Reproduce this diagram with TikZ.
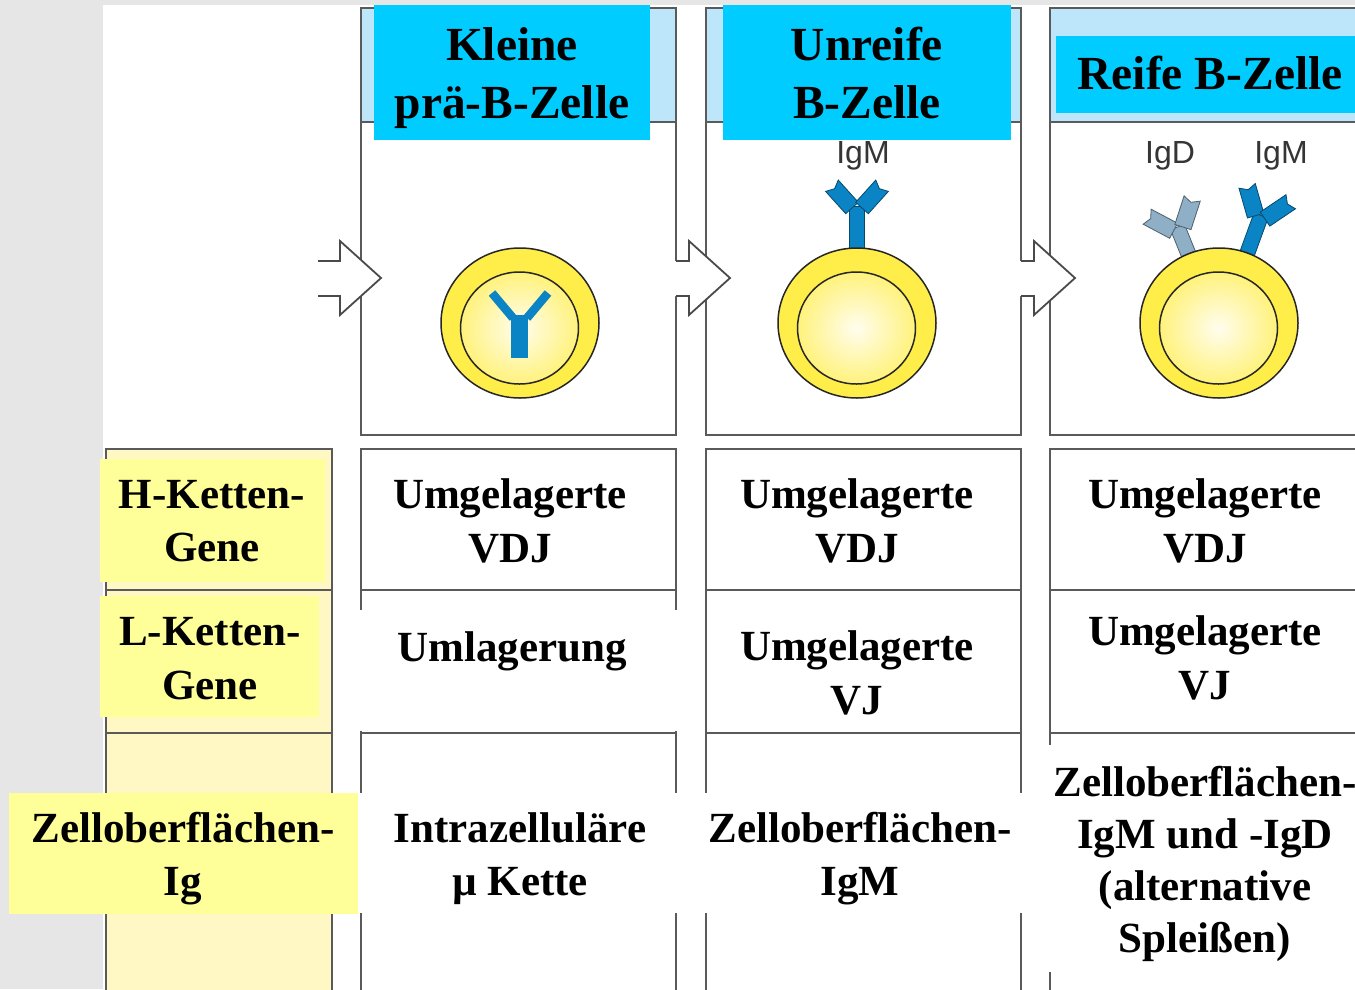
\documentclass[tikz,border=0pt]{standalone}
\usepackage{fontspec}
\setmainfont{Liberation Serif}
\newfontfamily\labelsans{Liberation Sans}

\definecolor{pagegray}{HTML}{E6E6E6}
\definecolor{rule}{HTML}{5A5A5A}
\definecolor{arrowgray}{HTML}{4A4A4A}
\definecolor{hdrblue}{HTML}{BEE6FA}
\definecolor{labelcyan}{HTML}{00CCFF}
\definecolor{labelyellow}{HTML}{FFFF99}
\definecolor{rowyellow}{HTML}{FFF8C4}
\definecolor{cellring}{HTML}{FFEE4A}
\definecolor{cellcore}{HTML}{FFF27C}
\definecolor{cellglow}{HTML}{FFFDEE}
\definecolor{abblue}{HTML}{0A84C4}
\definecolor{abgray}{HTML}{8EAFC6}
\definecolor{labelgray}{HTML}{353535}

\tikzset{
  panel/.style={draw=rule, line width=2.4pt},
  arrowline/.style={draw=arrowgray, line width=1.8pt, line join=miter},
  cellline/.style={draw=black!85, line width=1.5pt},
  hdrtext/.style={inner sep=0pt, align=center,
    font=\fontsize{47.5}{58}\selectfont\bfseries},
  bodytext/.style={inner sep=0pt, align=center,
    font=\fontsize{43}{53.5}\selectfont\bfseries},
  ablabel/.style={inner sep=0pt, text=labelgray,
    font=\labelsans\fontsize{32}{36}\selectfont},
  % Y-shaped antibody standing on its stem base
  % #1 colour, #2 stem length, #3 arm angle, #4 arm length
  pics/antibody/.style n args={4}{code={
    \filldraw[fill=#1, draw=#1!55!black, line width=0.8pt] (-7.5,1) rectangle (7.5,-#2);
    \foreach \ang/\side in {#3/1, -#3/-1} {
      \filldraw[fill=#1, draw=#1!55!black, line width=0.8pt,
                shift={(-5*\side,-#2+2)}, rotate=\ang, xscale=\side]
        (-8.5,0) -- (8.5,0) -- (8.5,-#4) -- (0,-#4+4) -- (-8.5,-#4) -- cycle;
    }
  }}
}

\begin{document}
\begin{tikzpicture}[x=1pt, y=-1pt]
\useasboundingbox (0,0) rectangle (1355,989);
\clip (0,0) rectangle (1355,989);

% page background
\fill[pagegray] (0,0) rectangle (1355,989);
\fill[white] (103,5) rectangle (1355,989);

% stage panels: header band, picture area, three table rows
\foreach \xl/\xr in {361/676, 706/1021, 1050/1365} {
  \fill[hdrblue] (\xl,8) rectangle (\xr,122);
  \draw[panel] (\xl,8) rectangle (\xr,435);
  \draw[panel] (\xl,122) -- (\xr,122);
  \draw[panel] (\xl,449) rectangle (\xr,1010);
  \draw[panel] (\xl,590) -- (\xr,590);
  \draw[panel] (\xl,733) -- (\xr,733);
}

% row-heading column
\fill[rowyellow] (106,449) rectangle (332,1010);
\draw[panel] (106,449) rectangle (332,1010);
\draw[panel] (106,590) -- (332,590);
\draw[panel] (106,733) -- (332,733);

% open block arrows between the stages
\foreach \xt/\xb/\xp in {318/340/381, 676/689/730, 1021/1034/1075} {
  \fill[white] (\xt-2,261) -- (\xb,261) -- (\xb,241) -- (\xp,278)
       -- (\xb,315) -- (\xb,296) -- (\xt-2,296) -- cycle;
  \draw[arrowline] (\xt,261) -- (\xb,261) -- (\xb,241) -- (\xp,278)
       -- (\xb,315) -- (\xb,296) -- (\xt,296);
}

% surface antibodies
\pic at (857,250) {antibody={abblue}{44}{42}{30}};
\pic[rotate=22] at (1188,253) {antibody={abgray}{28}{40}{30}};
\pic[rotate=-20] at (1247,254) {antibody={abblue}{41}{36}{31}};

% cells
\foreach \cx in {520, 857, 1219} {
  \draw[cellline, fill=cellring] (\cx,323) ellipse [x radius=79, y radius=75];
  \shade[inner color=cellglow, outer color=cellcore]
    (\cx-0.5,328) ellipse [x radius=59, y radius=56];
  \draw[cellline] (\cx-0.5,328) ellipse [x radius=59, y radius=56];
}

% intracellular mu chain in the small pre-B cell
\fill[abblue] (511,315) rectangle (528,358);
\draw[abblue, line width=8.5pt] (492,293) -- (513,318);
\draw[abblue, line width=8.5pt] (548,293) -- (527,318);

% antibody labels
\node[ablabel] (lab-igm2) at (863,156) {IgM};
\node[ablabel] (lab-igd3) at (1170,156) {IgD};
\node[ablabel] (lab-igm3) at (1281,156) {IgM};

% stage titles
\fill[labelcyan] (374,5) rectangle (650,140);
\node[hdrtext] (t-kleine) at (512,78) {Kleine\\prä-B-Zelle};
\fill[labelcyan] (723,5) rectangle (1011,140);
\node[hdrtext] (t-unreife) at (867,72.5) {Unreife\\B-Zelle};
\fill[labelcyan] (1056,36) rectangle (1365,113);
\node[hdrtext] (t-reife) at (1210,72.5) {Reife B-Zelle};

% row headings
\fill[labelyellow] (100,459) rectangle (325,582);
\node[bodytext] (t-hkette) at (212,521) {H-Ketten-\\Gene};
\fill[labelyellow] (100,596) rectangle (319,717);
\node[bodytext] (t-lkette) at (210,658.5) {L-Ketten-\\Gene};
\fill[labelyellow] (9,793) rectangle (359,914);
\node[bodytext] (t-oberfl) at (183,858.7) {Zelloberflächen-\\Ig};

% heavy-chain row
\node[bodytext] (t-vdj1) at (510,521) {Umgelagerte\\VDJ};
\node[bodytext] (t-vdj2) at (857,521) {Umgelagerte\\VDJ};
\node[bodytext] (t-vdj3) at (1205,521) {Umgelagerte\\VDJ};

% light-chain row
\fill[white] (335,610) rectangle (679,731);
\node[bodytext] (t-umlag) at (512,651.4) {Umlagerung};
\node[bodytext] (t-vj2) at (857,673) {Umgelagerte\\VJ};
\node[bodytext] (t-vj3) at (1205,658) {Umgelagerte\\VJ};

% surface immunoglobulin row
\fill[white] (358,793) rectangle (678,913);
\node[bodytext] (t-intra) at (520,858.7) {Intrazelluläre\\µ Kette};
\fill[white] (678,793) rectangle (1040,913);
\node[bodytext] (t-sigm) at (860,858.7) {Zelloberflächen-\\IgM};
\fill[white] (1045,745) rectangle (1365,972);
\node[bodytext, font=\fontsize{43}{52}\selectfont\bfseries] (t-sigmd) at (1205,864)
  {Zelloberflächen-\\IgM und -IgD\\(alternative\\Spleißen)};
\end{tikzpicture}
\end{document}
